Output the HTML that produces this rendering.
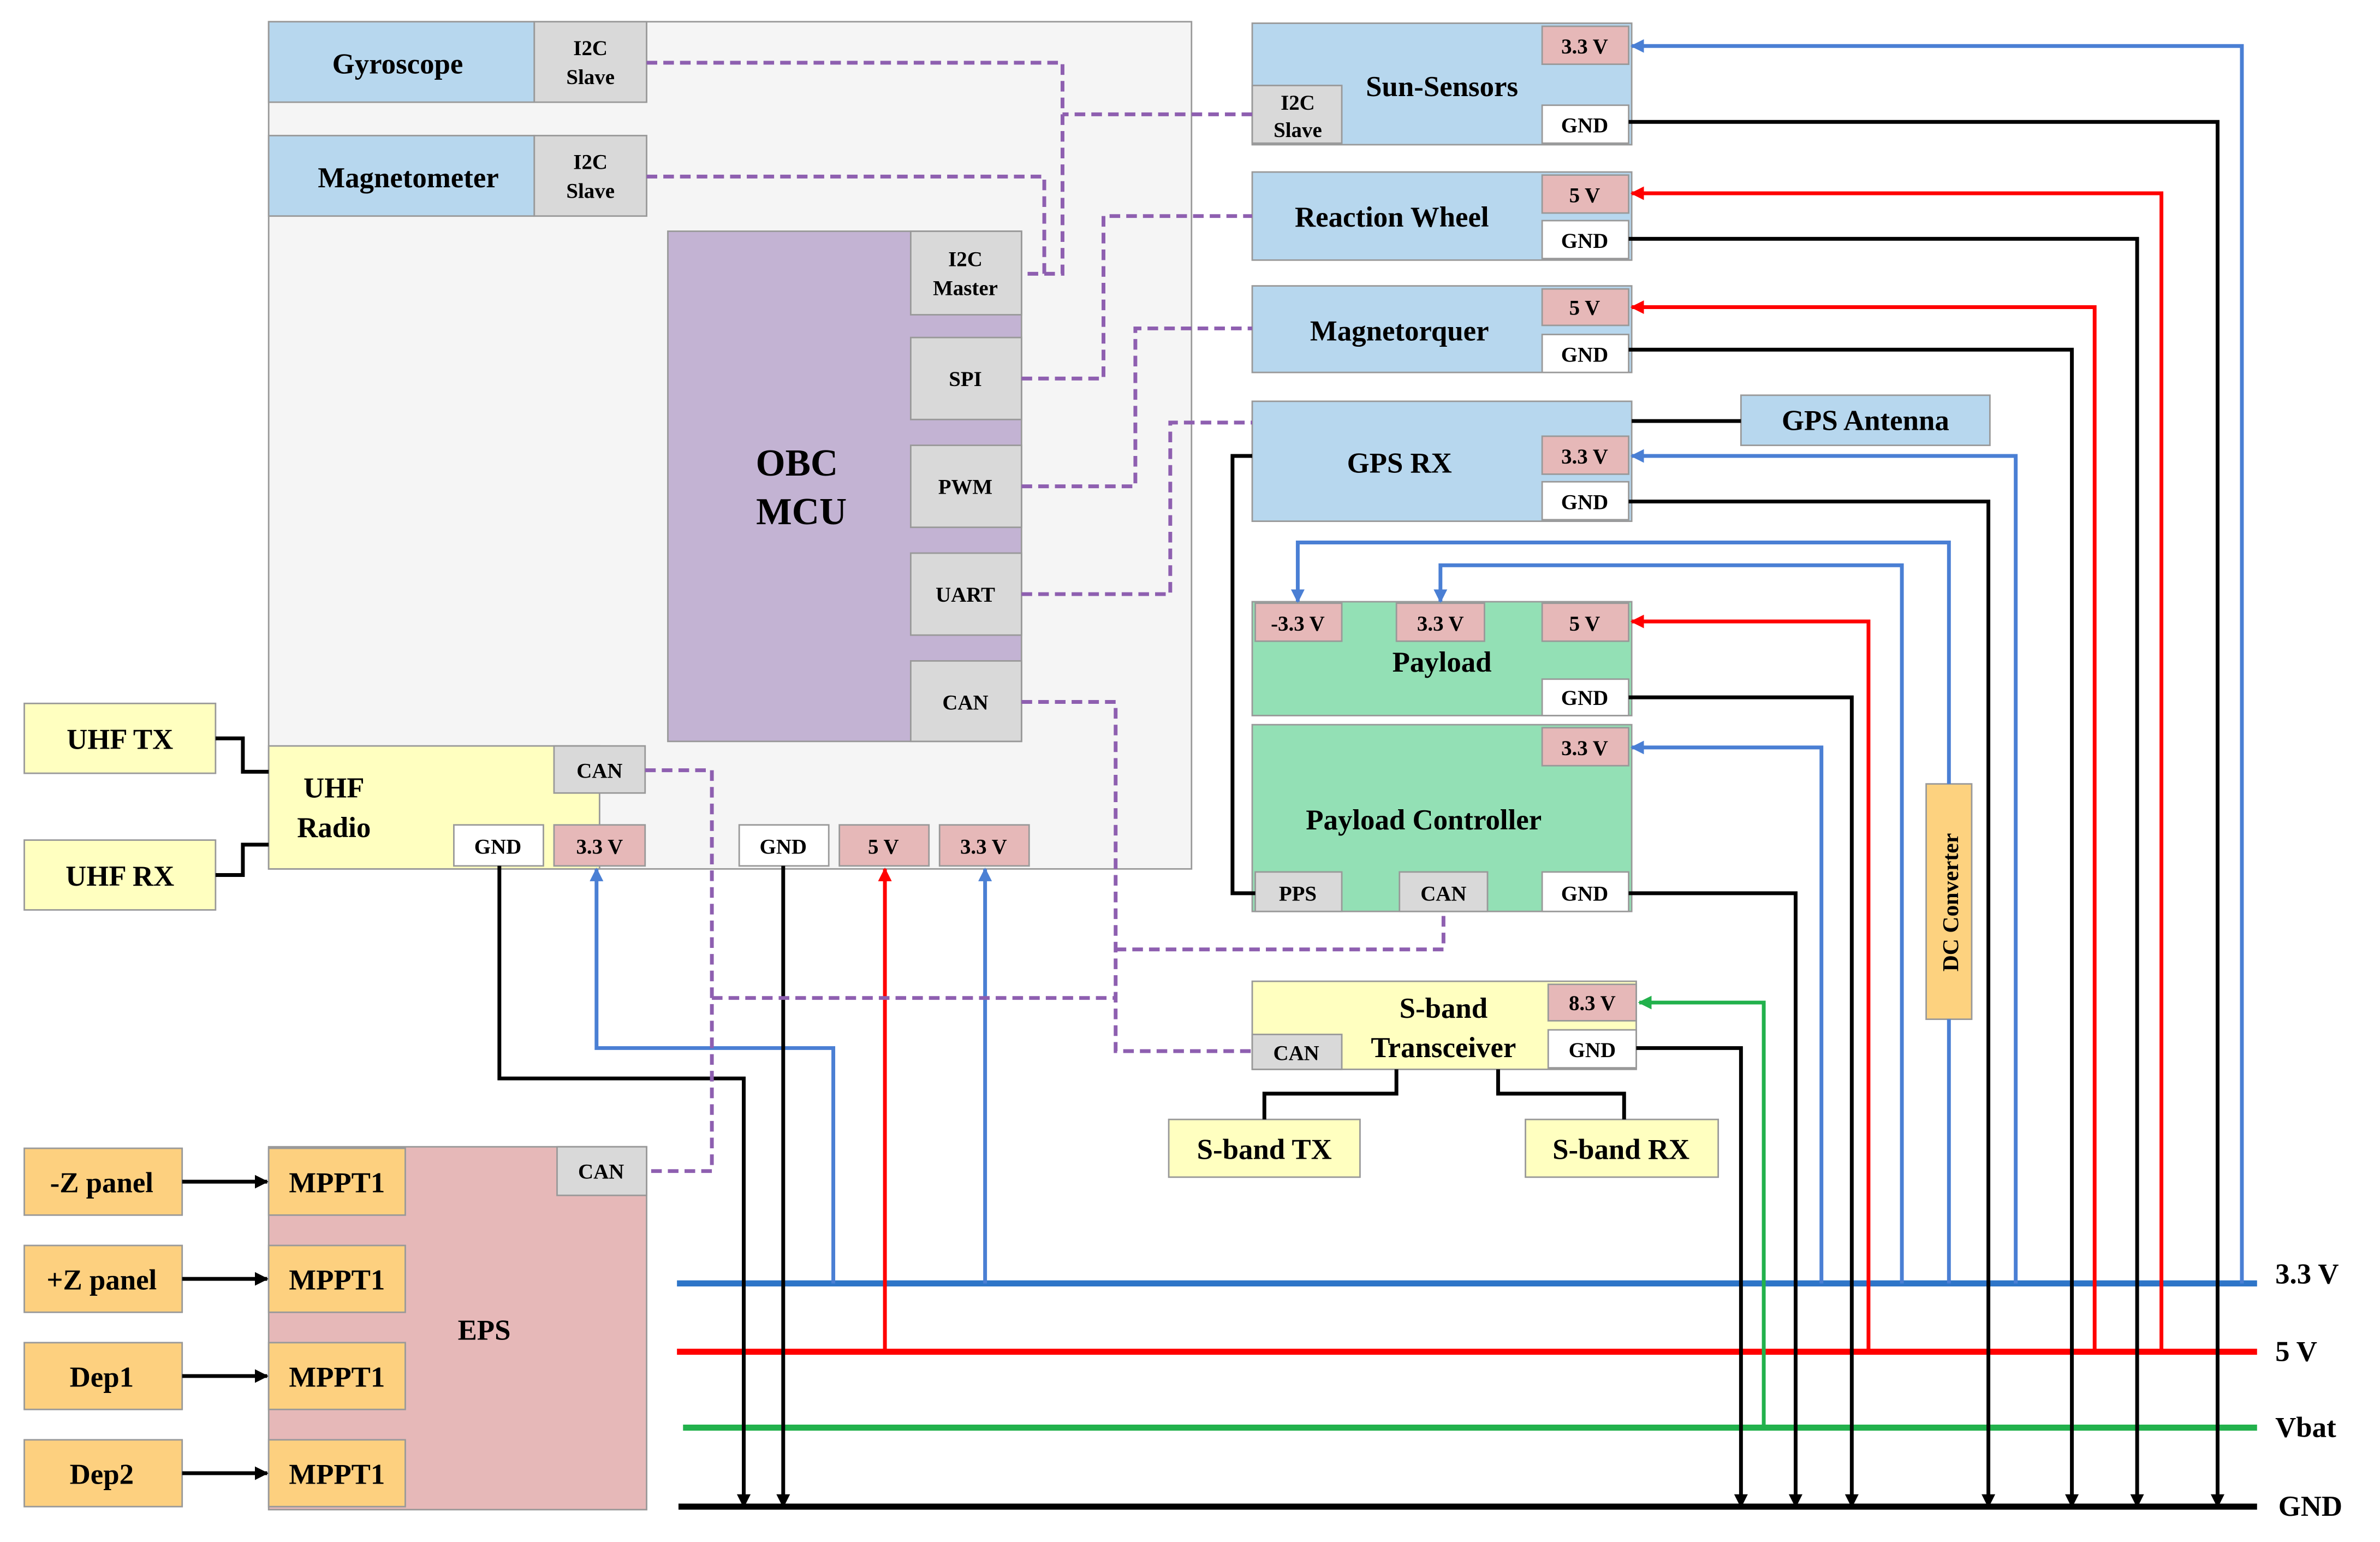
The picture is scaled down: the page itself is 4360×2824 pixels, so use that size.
<!DOCTYPE html>
<html><head><meta charset="utf-8"><style>
html,body{margin:0;padding:0;background:#fff}
svg{display:block}
text{font-family:"Liberation Serif",serif;font-weight:bold;fill:#000}
</style></head><body>
<svg width="4360" height="2824" viewBox="0 0 1568 1015" xmlns="http://www.w3.org/2000/svg">
<defs>
<marker id="ab" viewBox="0 0 10 10" refX="9" refY="5" markerWidth="3.6" markerHeight="3.6" orient="auto"><path d="M0,0L10,5L0,10z" fill="#4a7fd4"/></marker>
<marker id="ar" viewBox="0 0 10 10" refX="9" refY="5" markerWidth="3.6" markerHeight="3.6" orient="auto"><path d="M0,0L10,5L0,10z" fill="#ff0000"/></marker>
<marker id="ag" viewBox="0 0 10 10" refX="9" refY="5" markerWidth="3.6" markerHeight="3.6" orient="auto"><path d="M0,0L10,5L0,10z" fill="#22b14c"/></marker>
<marker id="ak" viewBox="0 0 10 10" refX="9" refY="5" markerWidth="3.6" markerHeight="3.6" orient="auto"><path d="M0,0L10,5L0,10z" fill="#000"/></marker>
</defs>
<g stroke="#999" stroke-width="1">
<rect x="177" y="14" width="608" height="558" fill="#f5f5f5"/>
<rect x="177" y="14" width="175" height="53" fill="#b7d7ee"/>
<rect x="352" y="14" width="74" height="53" fill="#d9d9d9"/>
<rect x="177" y="89" width="175" height="53" fill="#b7d7ee"/>
<rect x="352" y="89" width="74" height="53" fill="#d9d9d9"/>
<rect x="440" y="152" width="233" height="336" fill="#c3b3d3"/>
<rect x="600" y="152" width="73" height="55" fill="#d9d9d9"/>
<rect x="600" y="222" width="73" height="54" fill="#d9d9d9"/>
<rect x="600" y="293" width="73" height="54" fill="#d9d9d9"/>
<rect x="600" y="364" width="73" height="54" fill="#d9d9d9"/>
<rect x="600" y="435" width="73" height="53" fill="#d9d9d9"/>
<rect x="177" y="491" width="218" height="81" fill="#ffffc0"/>
<rect x="365" y="491" width="60" height="31" fill="#d9d9d9"/>
<rect x="299" y="543" width="59" height="27" fill="#fff"/>
<rect x="365" y="543" width="60" height="27" fill="#e6b8b8"/>
<rect x="487" y="543" width="59" height="27" fill="#fff"/>
<rect x="553" y="543" width="59" height="27" fill="#e6b8b8"/>
<rect x="619" y="543" width="59" height="27" fill="#e6b8b8"/>
<rect x="16" y="463" width="126" height="46" fill="#ffffc0"/>
<rect x="16" y="553" width="126" height="46" fill="#ffffc0"/>
<rect x="825" y="15" width="250" height="80" fill="#b7d7ee"/>
<rect x="1016" y="17" width="57" height="25" fill="#e6b8b8"/>
<rect x="1016" y="69" width="57" height="25" fill="#fff"/>
<rect x="825" y="56" width="59" height="38" fill="#d9d9d9"/>
<rect x="825" y="113" width="250" height="58" fill="#b7d7ee"/>
<rect x="1016" y="115" width="57" height="25" fill="#e6b8b8"/>
<rect x="1016" y="145" width="57" height="25" fill="#fff"/>
<rect x="825" y="188" width="250" height="57" fill="#b7d7ee"/>
<rect x="1016" y="190" width="57" height="24" fill="#e6b8b8"/>
<rect x="1016" y="220" width="57" height="25" fill="#fff"/>
<rect x="825" y="264" width="250" height="79" fill="#b7d7ee"/>
<rect x="1016" y="287" width="57" height="25" fill="#e6b8b8"/>
<rect x="1016" y="317" width="57" height="25" fill="#fff"/>
<rect x="1147" y="260" width="164" height="33" fill="#b7d7ee"/>
<rect x="825" y="396" width="250" height="75" fill="#93e0b5"/>
<rect x="827" y="397" width="57" height="25" fill="#e6b8b8"/>
<rect x="920" y="397" width="58" height="25" fill="#e6b8b8"/>
<rect x="1016" y="397" width="57" height="25" fill="#e6b8b8"/>
<rect x="1016" y="447" width="57" height="24" fill="#fff"/>
<rect x="825" y="477" width="250" height="123" fill="#93e0b5"/>
<rect x="1016" y="479" width="57" height="25" fill="#e6b8b8"/>
<rect x="827" y="574" width="57" height="26" fill="#d9d9d9"/>
<rect x="922" y="574" width="58" height="26" fill="#d9d9d9"/>
<rect x="1016" y="574" width="57" height="26" fill="#fff"/>
<rect x="825" y="646" width="253" height="58" fill="#ffffc0"/>
<rect x="1020" y="648" width="58" height="24" fill="#e6b8b8"/>
<rect x="825" y="681" width="59" height="23" fill="#d9d9d9"/>
<rect x="1020" y="678" width="58" height="25" fill="#fff"/>
<rect x="770" y="737" width="126" height="38" fill="#ffffc0"/>
<rect x="1005" y="737" width="127" height="38" fill="#ffffc0"/>
<rect x="1269" y="516" width="30" height="155" fill="#fdd27f"/>
<rect x="177" y="755" width="249" height="239" fill="#e6b8b8"/>
<rect x="367" y="755" width="59" height="32" fill="#d9d9d9"/>
<rect x="177" y="756" width="90" height="44" fill="#fdd07f"/>
<rect x="177" y="820" width="90" height="44" fill="#fdd07f"/>
<rect x="177" y="884" width="90" height="44" fill="#fdd07f"/>
<rect x="177" y="948" width="90" height="44" fill="#fdd07f"/>
<rect x="16" y="756" width="104" height="44" fill="#fdd07f"/>
<rect x="16" y="820" width="104" height="44" fill="#fdd07f"/>
<rect x="16" y="884" width="104" height="44" fill="#fdd07f"/>
<rect x="16" y="948" width="104" height="44" fill="#fdd07f"/>
</g>
<!-- buses -->
<g stroke-width="4" fill="none">
<line x1="446" y1="845" x2="1487" y2="845" stroke="#2e75c8"/>
<line x1="446" y1="890" x2="1487" y2="890" stroke="#ff0000"/>
<line x1="450" y1="940" x2="1487" y2="940" stroke="#22b14c"/>
<line x1="447" y1="992" x2="1487" y2="992" stroke="#000"/>
</g>
<!-- connections -->
<g stroke-width="2.5" fill="none">
<polyline points="1477,845 1477,30 1075,30" stroke="#4a7fd4" marker-end="url(#ab)"/>
<polyline points="1073,80 1461,80 1461,992" stroke="#000" marker-end="url(#ak)"/>
<polyline points="1424,890 1424,127 1075,127" stroke="#ff0000" marker-end="url(#ar)"/>
<polyline points="1073,157 1408,157 1408,992" stroke="#000" marker-end="url(#ak)"/>
<polyline points="1380,890 1380,202 1075,202" stroke="#ff0000" marker-end="url(#ar)"/>
<polyline points="1073,230 1365,230 1365,992" stroke="#000" marker-end="url(#ak)"/>
<polyline points="1328,845 1328,300 1075,300" stroke="#4a7fd4" marker-end="url(#ab)"/>
<polyline points="1073,330 1310,330 1310,992" stroke="#000" marker-end="url(#ak)"/>
<line x1="1284" y1="845" x2="1284" y2="671" stroke="#4a7fd4"/>
<polyline points="1284,516 1284,357 855,357 855,396" stroke="#4a7fd4" marker-end="url(#ab)"/>
<polyline points="1253,845 1253,372 949,372 949,396" stroke="#4a7fd4" marker-end="url(#ab)"/>
<polyline points="1231,890 1231,409 1075,409" stroke="#ff0000" marker-end="url(#ar)"/>
<polyline points="1073,459 1220,459 1220,992" stroke="#000" marker-end="url(#ak)"/>
<polyline points="1200,845 1200,492 1075,492" stroke="#4a7fd4" marker-end="url(#ab)"/>
<polyline points="1073,588 1183,588 1183,992" stroke="#000" marker-end="url(#ak)"/>
<polyline points="1162,940 1162,660 1080,660" stroke="#22b14c" marker-end="url(#ag)"/>
<polyline points="1078,690 1147,690 1147,992" stroke="#000" marker-end="url(#ak)"/>
<polyline points="825,300 812,300 812,588 827,588" stroke="#000"/>
<line x1="1075" y1="277" x2="1147" y2="277" stroke="#000"/>
<polyline points="920,704 920,720 833,720 833,737" stroke="#000"/>
<polyline points="987,704 987,720 1070,720 1070,737" stroke="#000"/>
<polyline points="329,570 329,710 490,710 490,992" stroke="#000" marker-end="url(#ak)"/>
<polyline points="549,845 549,690 393,690 393,572" stroke="#4a7fd4" marker-end="url(#ab)"/>
<line x1="516" y1="570" x2="516" y2="992" stroke="#000" marker-end="url(#ak)"/>
<line x1="583" y1="890" x2="583" y2="572" stroke="#ff0000" marker-end="url(#ar)"/>
<line x1="649" y1="845" x2="649" y2="572" stroke="#4a7fd4" marker-end="url(#ab)"/>
<polyline points="142,486 160,486 160,508 177,508" stroke="#000"/>
<polyline points="142,576 160,576 160,556 177,556" stroke="#000"/>
<line x1="120" y1="778" x2="176" y2="778" stroke="#000" marker-end="url(#ak)"/>
<line x1="120" y1="842" x2="176" y2="842" stroke="#000" marker-end="url(#ak)"/>
<line x1="120" y1="906" x2="176" y2="906" stroke="#000" marker-end="url(#ak)"/>
<line x1="120" y1="970" x2="176" y2="970" stroke="#000" marker-end="url(#ak)"/>
</g>
<g stroke="#8e5fb0" stroke-width="2.5" fill="none" stroke-dasharray="7,4">
<polyline points="426,41 700,41 700,180 673,180"/>
<polyline points="426,116 688,116 688,180"/>
<line x1="825" y1="75" x2="700" y2="75"/>
<polyline points="673,249 727,249 727,142 825,142"/>
<polyline points="673,320 748,320 748,216 825,216"/>
<polyline points="673,391 771,391 771,278 825,278"/>
<polyline points="673,462 735,462 735,692 825,692"/>
<polyline points="735,625 951,625 951,600"/>
<polyline points="425,507 469,507 469,771 426,771"/>
<line x1="469" y1="657" x2="735" y2="657"/>
</g>
<!-- labels -->
<g font-size="19" text-anchor="middle">
<text x="262" y="48">Gyroscope</text>
<text x="269" y="123">Magnetometer</text>
<text x="525" y="313" font-size="25">OBC</text>
<text x="528" y="345" font-size="25">MCU</text>
<text x="220" y="525" font-size="19">UHF</text>
<text x="220" y="551" font-size="19">Radio</text>
<text x="79" y="493">UHF TX</text>
<text x="79" y="583">UHF RX</text>
<text x="950" y="63">Sun-Sensors</text>
<text x="917" y="149">Reaction Wheel</text>
<text x="922" y="224">Magnetorquer</text>
<text x="922" y="311">GPS RX</text>
<text x="1229" y="283">GPS Antenna</text>
<text x="950" y="442">Payload</text>
<text x="938" y="546">Payload Controller</text>
<text x="951" y="670">S-band</text>
<text x="951" y="696">Transceiver</text>
<text x="833" y="763">S-band TX</text>
<text x="1068" y="763">S-band RX</text>
<text x="319" y="882">EPS</text>
<text x="67" y="785">-Z panel</text>
<text x="67" y="849">+Z panel</text>
<text x="67" y="913">Dep1</text>
<text x="67" y="977">Dep2</text>
<text x="222" y="785">MPPT1</text>
<text x="222" y="849">MPPT1</text>
<text x="222" y="913">MPPT1</text>
<text x="222" y="977">MPPT1</text>
<text x="1290" y="594" font-size="15" transform="rotate(-90 1290 594)">DC Converter</text>
</g>
<g font-size="19" text-anchor="start">
<text x="1499" y="845">3.3 V</text>
<text x="1499" y="896">5 V</text>
<text x="1499" y="946">Vbat</text>
<text x="1501" y="998">GND</text>
</g>
<g font-size="14" text-anchor="middle">
<text x="389" y="36">I2C</text><text x="389" y="55">Slave</text>
<text x="389" y="111">I2C</text><text x="389" y="130">Slave</text>
<text x="636" y="175">I2C</text><text x="636" y="194">Master</text>
<text x="636" y="254">SPI</text>
<text x="636" y="325">PWM</text>
<text x="636" y="396">UART</text>
<text x="636" y="467">CAN</text>
<text x="395" y="512">CAN</text>
<text x="328" y="562">GND</text>
<text x="395" y="562">3.3 V</text>
<text x="516" y="562">GND</text>
<text x="582" y="562">5 V</text>
<text x="648" y="562">3.3 V</text>
<text x="1044" y="35">3.3 V</text>
<text x="1044" y="87">GND</text>
<text x="855" y="72">I2C</text><text x="855" y="90">Slave</text>
<text x="1044" y="133">5 V</text>
<text x="1044" y="163">GND</text>
<text x="1044" y="207">5 V</text>
<text x="1044" y="238">GND</text>
<text x="1044" y="305">3.3 V</text>
<text x="1044" y="335">GND</text>
<text x="855" y="415">-3.3 V</text>
<text x="949" y="415">3.3 V</text>
<text x="1044" y="415">5 V</text>
<text x="1044" y="464">GND</text>
<text x="1044" y="497">3.3 V</text>
<text x="855" y="593">PPS</text>
<text x="951" y="593">CAN</text>
<text x="1044" y="593">GND</text>
<text x="1049" y="665">8.3 V</text>
<text x="854" y="698">CAN</text>
<text x="1049" y="696">GND</text>
<text x="396" y="776">CAN</text>
</g>
</svg>
</body></html>
